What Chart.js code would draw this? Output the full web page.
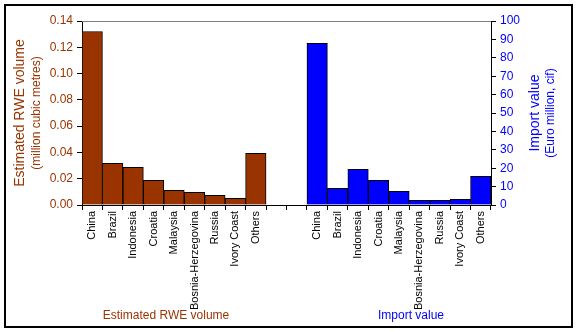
<!DOCTYPE html>
<html>
<head>
<meta charset="utf-8">
<script src="https://cdn.jsdelivr.net/npm/chart.js@4"></script>
<style>
  body { margin: 0; background: #fff; }
  canvas { display: block; }
</style>
</head>
<body>
<canvas id="rweChart" width="577" height="332"></canvas>
<script>
// data
const countries = ['China', 'Brazil', 'Indonesia', 'Croatia', 'Malaysia', 'Bosnia-Herzegovina', 'Russia', 'Ivory Coast', 'Others'];
const rweVolume = [0.132, 0.0317, 0.0287, 0.0188, 0.0112, 0.0097, 0.0074, 0.0051, 0.0393];
const importValue = [87.9, 9.1, 19.4, 13.4, 7.4, 2.5, 2.5, 3.1, 15.6];
const gapSlots = ['', ''];

const BROWN = '#993300';
const BLUE = '#0000ff';
const FONT = "'Liberation Sans', Arial, sans-serif";

const labels = countries.concat(gapSlots, countries);
const pad = Array(countries.length + gapSlots.length).fill(null);

// titles, border and top line
const decor = {
  id: 'decor',
  afterDraw(chart) {
    const c = chart.ctx;
    const a = chart.chartArea;
    c.save();
    c.strokeStyle = '#808080';
    c.lineWidth = 1;
    c.beginPath();
    c.moveTo(a.left, a.top + 0.5);
    c.lineTo(a.right, a.top + 0.5);
    c.stroke();

    c.strokeStyle = '#000';
    c.lineWidth = 2;
    c.strokeRect(5, 5, 567, 322);

    const midY = (a.top + a.bottom) / 2;
    const vText = (txt, x, size, color) => {
      c.save();
      c.translate(x, midY);
      c.rotate(-Math.PI / 2);
      c.font = size + 'px ' + FONT;
      c.fillStyle = color;
      c.textAlign = 'center';
      c.textBaseline = 'middle';
      c.fillText(txt, 0, 0);
      c.restore();
    };
    vText('Estimated RWE volume', 20, 14, BROWN);
    vText('(million cubic metres)', 37, 12, BROWN);
    vText('Import value', 535, 14, BLUE);
    vText('(Euro million, cif)', 551, 12, BLUE);

    c.font = '12px ' + FONT;
    c.textAlign = 'center';
    c.textBaseline = 'middle';
    c.fillStyle = BROWN;
    c.fillText('Estimated RWE volume', 166, 316);
    c.fillStyle = BLUE;
    c.fillText('Import value', 411, 316);
    c.restore();
  }
};

const ctx = document.getElementById('rweChart').getContext('2d');
new Chart(ctx, {
  type: 'bar',
  data: {
    labels: labels,
    datasets: [{
      label: 'Estimated RWE volume',
      data: rweVolume.concat(pad),
      backgroundColor: BROWN,
      borderColor: '#000',
      borderWidth: 1,
      yAxisID: 'y'
    }, {
      label: 'Import value',
      data: pad.concat(importValue),
      backgroundColor: BLUE,
      borderColor: '#000',
      borderWidth: 1,
      yAxisID: 'y1'
    }]
  },
  options: {
    responsive: false,
    animation: false,
    grouped: false,
    barPercentage: 1,
    categoryPercentage: 1,
    layout: { padding: { top: 21, left: 0, right: 0, bottom: 0 } },
    plugins: { legend: { display: false }, tooltip: { enabled: false } },
    scales: {
      x: {
        afterFit: s => { s.height = 127; },
        grid: { offset: true, drawOnChartArea: false, color: '#000', tickLength: 5 },
        border: { color: '#000' },
        ticks: {
          autoSkip: false, maxRotation: 90, minRotation: 90, padding: 1,
          color: '#000', font: { size: 11, family: FONT }
        }
      },
      y: {
        position: 'left',
        min: 0, max: 0.14,
        afterFit: s => { s.width = 82; },
        grid: { drawOnChartArea: false, color: '#000', tickLength: 5 },
        border: { color: '#000' },
        ticks: {
          stepSize: 0.02, padding: 4, color: BROWN,
          font: { size: 12, family: FONT },
          callback: v => v.toFixed(2)
        }
      },
      y1: {
        position: 'right',
        min: 0, max: 100,
        afterFit: s => { s.width = 86; },
        grid: { drawOnChartArea: false, color: '#000', tickLength: 5 },
        border: { color: '#000' },
        ticks: { stepSize: 10, padding: 4, color: BLUE, font: { size: 12, family: FONT } }
      }
    }
  },
  plugins: [decor]
});
</script>
</body>
</html>
